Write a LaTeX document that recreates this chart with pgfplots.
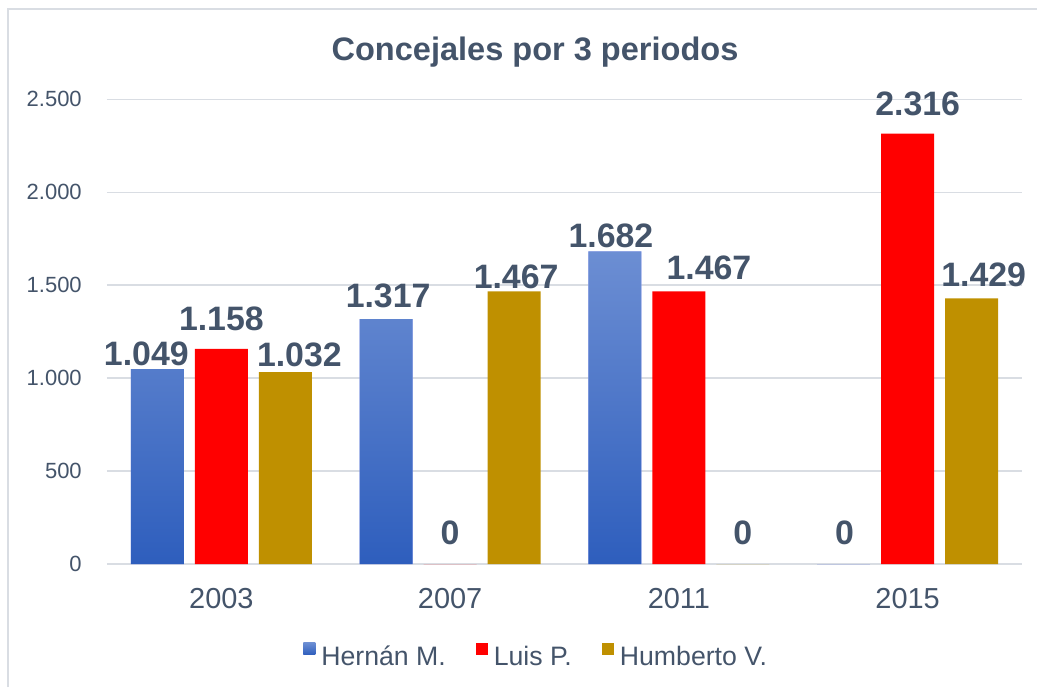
\documentclass[border=0pt]{standalone}
\usepackage{pgfplots}
\usepackage{pgfplotstable}
\pgfplotsset{compat=1.18}
\usepackage{fontspec}
\setmainfont{Liberation Sans}
\definecolor{txt}{HTML}{44546A}
\definecolor{gridc}{HTML}{D9DDE3}
\definecolor{blueT}{HTML}{6C8ED3}
\definecolor{blueB}{HTML}{2E5EBD}
\definecolor{redb}{HTML}{FF0000}
\definecolor{goldb}{HTML}{BF9000}

% x = period index, y = concejales, dx/dy = label offset (pt)
\pgfplotstableread{
x y dx dy
0 1049 -8.25 2.5
1 1317 1.5 8.5
2 1682 -3 2.5
3 0 0.75 14.25
}\hernan
\pgfplotstableread{
x y dx dy
0 1158 0 13.5
1 0 0 14.25
2 1467 22.5 8.25
3 2316 7.5 12.75
}\luis
\pgfplotstableread{
x y dx dy
0 1032 10.5 3.75
1 1467 1.5 1.7
2 0 0 14.25
3 1429 9 8.25
}\humberto

\begin{document}
\begin{tikzpicture}
% canvas 1038x687 px at 0.75pt per px
\path[use as bounding box] (0pt,0pt) rectangle (778.5pt,-515.25pt);
\draw[gridc, line width=1.5pt] (6pt,-515.25pt) -- (6pt,-6.75pt) -- (777.5pt,-6.75pt);
\node[anchor=base, text=txt, font=\fontsize{24.4}{29}\selectfont\bfseries, inner sep=0pt]
  at (401.25pt,-45pt) {Concejales por 3 periodos};

\begin{axis}[
  at={(80.25pt,-423pt)}, anchor=south west,
  scale only axis, width=686.25pt, height=348.5pt,
  xmin=-0.5, xmax=3.5, ymin=0, ymax=2500,
  ytick={0,500,1000,1500,2000,2500},
  xtick=data, xticklabels={2003,2007,2011,2015},
  axis line style={draw=none}, major tick length=0pt,
  ymajorgrids, grid style={gridc, line width=1.1pt},
  ybar, bar width=39.75pt,
  yticklabel style={anchor=east, inner sep=0pt, xshift=-18.75pt, text=txt,
    font=\fontsize{16.5}{20}\selectfont},
  xticklabel style={anchor=north, inner sep=0pt, yshift=-18pt, text=txt,
    font=\fontsize{21.7}{26}\selectfont},
  nodes near coords,
  visualization depends on={\thisrow{dx} \as \ldx},
  visualization depends on={\thisrow{dy} \as \ldy},
  every node near coord/.append style={font=\fontsize{25.4}{30}\selectfont\bfseries,
    text=txt, inner sep=0pt, xshift=\ldx pt, yshift=\ldy pt},
  legend columns=3,
  legend style={draw=none, fill=none, at={(0.468,-0.196)}, anchor=center,
    font=\fontsize{20}{24}\selectfont, text=txt,
    nodes={inner sep=0pt},
    /tikz/every odd column/.append style={column sep=4.5pt},
    /tikz/every even column/.append style={column sep=22.5pt}},
  legend image code/.code={\fill[#1] (0pt,1.5pt) rectangle (9pt,10.5pt);},
  /pgf/number format/.cd, fixed, precision=0, 1000 sep={.}, assume math mode=true,
]
\addplot+[bar shift=-48pt, draw=none, top color=blueT, bottom color=blueB]
  table[x=x, y=y] {\hernan};
\addlegendentry{Hernán M.}
\addplot+[bar shift=0pt, draw=none, fill=redb]
  table[x=x, y=y] {\luis};
\addlegendentry{Luis P.}
\addplot+[bar shift=48pt, draw=none, fill=goldb]
  table[x=x, y=y] {\humberto};
\addlegendentry{Humberto V.}
\end{axis}
\end{tikzpicture}
\end{document}
